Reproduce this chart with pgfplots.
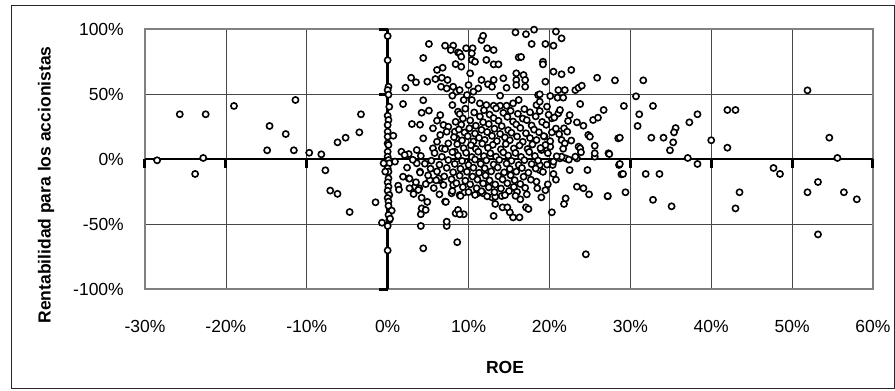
\documentclass[border=0pt]{standalone}
\usepackage{pgfplots}
\pgfplotsset{compat=1.18}
\usepackage{pgfplotstable}
\usepackage{fontspec}
\setmainfont{Liberation Sans}

\pgfplotstableread{
x y
-28.5 -1
-25.7 34.4
-22.5 34.4
-23.8 -11.5
-22.8 0.8
-19.0 40.8
-14.6 25.4
-12.6 19.2
-14.9 6.7
-11.6 6.7
-11.4 45.4
-9.7 4.8
-8.2 3.6
-7.7 -8.7
-7.1 -24.3
-6.2 -26.8
-6.2 12.8
-5.2 16.4
-3.5 20.5
-3.3 34.4
-4.7 -40.8
-1.5 -33.3
-0.7 -49
0.2 -47
0.0 94.6
0.0 76
0.1 55.6
0.0 53
0.1 49.5
0.2 40.2
0.0 33.3
0.1 30
0.0 26.2
0.0 21
0.0 17.2
0.7 17.9
0.0 12
0.1 10.8
0.0 5.6
0.0 1.8
0.1 -0.8
0.2 -3.3
0.0 -7.2
0.1 -9.7
0.1 -14.9
0.0 -18
0.1 -21.3
0.0 -24.4
0.2 -27.7
0.0 -30
0.1 -32.8
0.1 -36
0.5 -39.7
0.1 -43
0.3 -45.9
0.0 -51.5
0.0 -70.3
-0.3 -9.7
-0.5 -3.3
0.9 -2
1.7 5.6
2.6 3.8
3.6 -3.3
4.0 -9.7
1.9 -13.6
2.6 -14.9
1.3 -20.5
1.4 -23.6
3.4 -21.3
5.2 -16.2
2.7 -15.1
2.7 -22.5
3.5 -17.9
3.2 -26.9
3.9 -22.5
3.8 -23.8
6.4 -16.2
6.9 -20
8.1 -20
6.3 -14.9
7.1 -32.8
7.9 -26.4
8.9 -27.7
6.4 -27.2
4.2 -29.8
4.9 -33
7.2 -33
4.1 -42.5
4.2 -38
4.7 -39.2
4.1 -51.5
7.3 -51.5
7.3 -48.2
4.4 -68.7
8.6 -64
8.4 -41.8
8.7 -39.2
9.4 -42.5
8.9 -42.5
9.5 -25.6
13.1 -43.8
15.5 -44.9
16.3 -44.9
15.1 -41
14.2 -37.2
14.8 -37.2
17.1 -37.2
17.4 -38.5
13.3 -34.6
16.4 -31
17.2 -27.2
12.9 -29.5
14.1 -28.5
13.3 -29
11.8 -26.4
11.1 -26.4
19.0 -29.5
20.3 -41
21.8 -34.6
22.0 -30.3
24.5 -73.3
24.9 -27.2
24.2 -22.5
23.4 -21.3
19.5 -24
19.8 -19.5
18.5 -22.5
20.8 -15.9
20.5 -11.5
22.5 -8.5
24.7 -8.5
18.8 -8.5
18.8 -4.6
20.4 -4.6
20.5 -2
21.3 0.5
22.0 0.5
23.4 0.5
25.6 1.8
28.6 -4.6
28.9 -11.8
18.4 -17.4
27.2 -28.7
5.1 88.5
7.1 87.2
8.1 87.2
7.8 83.8
8.7 82
4.4 77.7
8.4 73
6.8 70.2
6.1 68.5
2.9 62.5
3.5 59
4.9 59.5
5.9 61.5
6.7 62.5
7.4 60.8
2.2 54.8
6.6 55.6
7.3 54.3
8.1 55.6
8.5 51.8
8.0 48.7
1.9 42.3
4.4 45.2
4.2 35.6
5.1 37.2
6.5 33.8
6.1 29.5
6.9 26.2
3.0 26.9
4.0 26.4
5.6 23.6
7.5 24.8
4.4 15.9
6.1 13.3
6.5 18.5
7.3 21
8.3 21
5.6 8.2
6.7 8.2
8.3 5.6
7.5 12
8.5 15.9
8.7 36.4
8.0 41.5
3.6 6.9
2.1 3.1
15.8 97.4
17.1 96
18.1 99.5
11.6 91.5
11.8 94.8
17.8 88.5
12.3 85.2
13.1 83.8
9.7 85.2
10.5 85.2
10.4 81.3
8.9 81.3
16.2 78.2
16.5 78.5
9.1 78.7
10.4 76.2
10.8 74.8
12.2 76.2
13.1 72.8
13.7 72.8
9.1 71
10.2 65.9
15.9 65.9
16.8 64.6
11.6 60.8
13.1 60.8
14.3 62.1
15.9 60.8
17.0 60.8
12.4 57.5
12.9 55.6
14.7 54.8
15.9 56.9
17.0 55.6
10.0 56.9
11.2 54.3
8.9 53
10.6 51.8
9.8 49.2
13.9 48.7
18.6 49.2
9.4 45.4
10.4 45.4
11.4 42.8
12.2 41.5
13.1 41
13.9 41
14.7 41
15.5 42.8
16.2 45.4
18.4 41.5
20.8 98
21.5 92.8
19.5 88.5
20.5 87.2
19.2 74.8
19.2 72.8
20.5 67.2
21.5 65.2
22.7 68.5
19.5 59.5
25.9 62.5
21.1 53
21.9 53
23.2 53
23.6 54.8
24.0 56.4
18.8 49.8
20.1 48.5
21.0 47.2
21.7 47.2
23.8 42.3
26.7 37.7
18.8 44.1
19.7 40.3
21.1 35.1
21.3 37.7
22.5 33.8
20.3 31.3
23.4 28.2
24.2 25.6
25.4 30
26.0 31.8
21.8 23.6
22.2 21
24.8 18.5
25.0 17.2
28.5 15.9
20.3 20.5
19.4 17.2
21.5 14.6
21.9 12
23.6 9.5
23.8 8.2
25.6 10.2
25.6 4.4
27.3 4.4
19.0 6.9
20.1 9.5
21.5 1.8
23.2 1.8
28.1 60.5
31.6 60.5
51.9 52.8
30.7 48.2
29.2 40.8
32.8 40.8
31.1 34.4
38.3 34.4
37.3 28.2
30.9 25.4
35.6 23.8
35.4 20.5
42.0 37.7
43.0 37.7
28.7 16.4
32.6 16.4
34.1 16.4
35.3 12.8
34.9 6.7
40.0 14.4
42.0 8.7
54.6 16.4
27.4 3.8
37.1 0.8
55.6 0.8
28.7 -3.8
38.3 -3.8
29.1 -11.5
31.9 -11.5
33.6 -11.5
47.7 -6.9
48.5 -11.5
53.2 -17.7
27.2 -28.5
29.4 -25.6
43.5 -25.6
51.9 -25.6
56.4 -25.6
32.8 -31.4
58.0 -31
35.1 -36.4
43.0 -38
53.2 -58
9.6 38.7
11.9 37.5
13.4 38.9
15.2 37.1
16.9 38.4
18.8 36.9
8.9 34.6
10.7 35.8
12.6 34.2
14.3 35.5
16.1 34.8
17.6 35.9
19.9 34.1
9.3 31.2
11.4 32.7
13.1 31.5
14.8 32.4
16.7 31.1
18.3 32.8
20.6 31.9
8.4 28.6
10.2 29.7
11.8 28.3
13.7 29.4
15.5 28.8
17.2 29.9
19.1 28.5
22.3 29.2
9.1 26.4
10.9 25.6
12.5 26.9
14.1 25.3
15.9 26.6
17.8 25.8
19.6 26.3
8.8 22.7
10.1 23.6
11.6 22.4
13.2 23.3
14.9 22.2
16.4 23.9
18.1 22.6
20.8 23.4
9.5 20.4
10.8 19.6
12.3 20.8
13.9 19.3
15.3 20.2
17.1 19.8
18.7 20.6
21.2 19.1
8.2 16.8
9.9 17.5
11.3 16.3
12.9 17.8
14.5 16.6
16.0 17.3
17.6 16.1
19.3 17.6
9.2 14.3
10.6 13.5
12.0 14.7
13.5 13.8
15.1 14.4
16.7 13.2
18.4 14.6
20.1 13.7
22.7 14.2
8.6 11.4
10.3 10.6
11.7 11.8
13.0 10.9
14.6 11.5
16.3 10.4
17.9 11.2
19.5 10.8
7.1 7.6
9.4 8.3
10.9 7.8
12.4 8.6
14.0 7.4
15.6 8.1
17.3 7.7
18.9 8.4
21.7 7.9
5.8 4.6
8.0 5.3
9.7 4.8
11.2 5.6
12.7 4.4
14.3 5.1
15.8 4.7
17.5 5.4
19.8 4.5
23.9 5.2
4.1 2.4
6.7 1.7
8.7 2.6
10.4 1.5
11.9 2.2
13.4 1.8
14.9 2.7
16.5 1.6
18.2 2.3
20.9 2.1
3.1 -0.6
5.4 -1.3
7.5 -0.8
9.2 -1.5
10.8 -0.4
12.2 -1.1
13.8 -0.7
15.3 -1.4
16.9 -0.9
18.6 -1.2
22.4 -0.5
4.6 -3.6
6.4 -4.4
8.3 -3.8
10.0 -4.5
11.5 -3.7
13.1 -4.2
14.7 -3.5
16.2 -4.6
17.8 -3.9
19.7 -4.3
2.4 -6.6
5.3 -7.4
7.3 -6.8
9.0 -7.5
10.6 -6.7
12.0 -7.2
13.6 -6.5
15.1 -7.6
16.6 -6.9
18.3 -7.3
4.0 -10.4
6.1 -9.6
8.1 -10.2
9.8 -9.8
11.3 -10.6
12.8 -9.5
14.4 -10.3
15.9 -9.7
17.4 -10.5
19.2 -9.9
5.0 -12.6
7.0 -13.4
8.9 -12.8
10.5 -13.5
12.1 -12.7
13.7 -13.3
15.2 -12.5
16.8 -13.6
6.0 -16.4
7.9 -15.6
9.6 -16.7
11.1 -15.8
12.6 -16.5
14.2 -15.7
15.7 -16.3
17.7 -15.9
4.7 -19.3
8.5 -18.6
10.2 -19.5
11.8 -18.8
13.3 -19.6
14.8 -18.7
16.4 -19.2
5.7 -22.4
9.3 -21.6
11.0 -22.5
12.5 -21.8
14.0 -22.7
15.6 -21.5
17.0 -22.2
8.0 -24.6
10.0 -25.4
11.6 -24.8
13.2 -25.5
15.0 -24.7
16.0 -25.3
9.0 -28.4
10.8 -27.6
12.3 -28.7
14.5 -27.8
15.8 -28.3
}\roedata

\begin{document}
\begin{tikzpicture}
\begin{axis}[
  at={(0pt,0pt)}, anchor=south west,
  scale only axis, width=728pt, height=260pt,
  xmin=-30, xmax=60, ymin=-100, ymax=100,
  xtick={-30,-20,...,60},
  xticklabels={-30\%,-20\%,-10\%,0\%,10\%,20\%,30\%,40\%,50\%,60\%},
  ytick={-100,-50,0,50,100},
  yticklabels={-100\%,-50\%,0\%,50\%,100\%},
  tick style={draw=none},
  major tick length=0pt,
  xticklabel style={anchor=center, yshift=-37.7pt, inner sep=0pt, font=\fontsize{17.5}{17.5}\selectfont},
  yticklabel style={anchor=east, xshift=-21pt, inner sep=0pt, font=\fontsize{17.5}{17.5}\selectfont},
  grid=major,
  major grid style={draw=black!72, line width=0.7pt},
  axis line style={draw=black!50, line width=1.4pt},
  clip=false,
  empty line=jump,
]
\addplot[black, line width=2.7pt, no marks] coordinates {(-30,0) (60,0)};
\addplot[black, line width=2.7pt, no marks] coordinates {(0,-100) (0,100)};
\addplot[black, line width=3pt, no marks, line cap=butt] coordinates {
(-30,0) (-30,-7)

(-20,0) (-20,-7)

(-10,0) (-10,-7)

(10,0) (10,-7)

(20,0) (20,-7)

(30,0) (30,-7)

(40,0) (40,-7)

(50,0) (50,-7)

(60,0) (60,-7)

(0,100) (-1.1,100)

(0,50) (-1.1,50)

(0,-50) (-1.1,-50)

(0,-100) (-1.1,-100)
};
\addplot[only marks, mark=*, mark size=3.1pt,
  mark options={draw=black, fill=white, line width=1.6pt}] table[x=x, y=y] {\roedata};
\end{axis}
\node[rotate=90, font=\bfseries\fontsize{17.5}{17.5}\selectfont] at (-99pt,104pt) {Rentabilidad para los accionistas};
\node[font=\bfseries\fontsize{17.5}{17.5}\selectfont] at (360pt,-78pt) {ROE};
\draw[black!85, line width=0.8pt] (-134pt,-99pt) rectangle (749pt,284pt);
\path (-145pt,-102pt) rectangle (750pt,289pt);
\end{tikzpicture}
\end{document}
